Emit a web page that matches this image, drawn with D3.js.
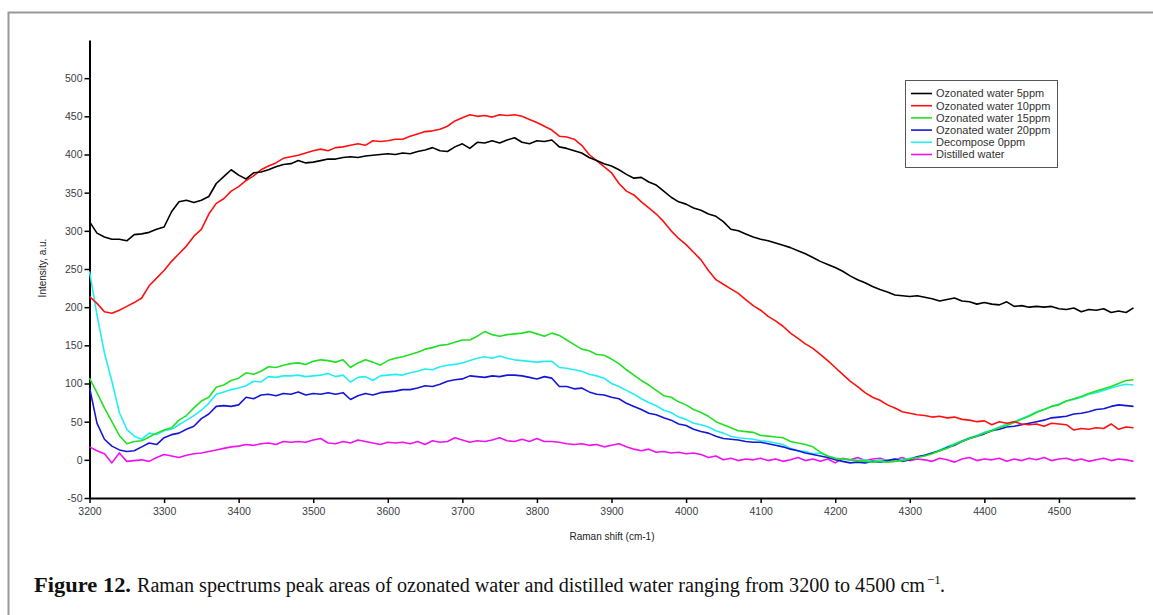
<!DOCTYPE html>
<html>
<head>
<meta charset="utf-8">
<script src="https://cdn.jsdelivr.net/npm/d3@7"></script>
<style>
  html, body { margin: 0; padding: 0; background: #fff; }
  svg { display: block; }
</style>
</head>
<body>
<script>
// Raman spectra, sampled every 10 cm-1 from 3200 to 4600
const shiftStart = 3200, shiftStep = 10;

const ozone5 = [312,297,292,289,289,287,295,296,298,302,305,325,338,340,337,340,345,362,371,380,
  373,368,376,377,380,384,387,388,392,389,390,392,394,394,396,397,396,398,399,400,
  401,400,402,401,404,406,409,405,404,410,414,408,416,415,418,415,419,422,416,414,
  418,417,419,410,408,405,402,396,392,388,385,380,374,369,370,364,360,352,344,338,
  335,330,327,322,319,312,302,300,296,292,289,287,284,281,278,274,270,265,260,256,
  252,247,241,236,232,227,223,220,216,215,214,215,213,211,208,210,212,208,207,204,
  206,204,203,207,201,202,200,201,200,201,198,197,199,194,197,196,198,193,195,193,199];

const ozone10 = [214,205,194,192,196,201,206,212,228,238,248,260,270,280,293,302,322,336,342,352,
  358,366,372,380,385,389,395,397,399,402,405,407,405,409,410,412,414,412,418,417,
  418,420,420,424,427,430,431,433,437,444,448,452,450,451,449,452,451,452,450,446,
  442,437,432,424,423,420,412,400,392,384,376,362,352,347,338,330,322,312,300,290,
  282,272,262,248,236,230,224,218,210,202,196,188,182,175,166,159,152,146,138,130,
  121,112,103,96,88,82,78,72,68,63,61,59,58,56,57,55,56,53,52,50,
  51,46,50,48,50,47,46,47,44,48,47,46,39,41,40,42,41,47,40,43,42];

const ozone15 = [107,88,68,50,32,21,24,25,30,35,39,42,52,58,68,77,82,95,98,104,
  107,114,112,116,122,121,124,126,127,125,129,131,130,128,131,121,127,131,128,124,
  130,133,135,138,141,145,147,150,151,154,157,157,162,168,164,162,164,165,166,168,
  165,162,166,163,157,151,145,143,138,137,132,126,118,111,104,98,91,84,82,76,
  72,66,62,57,50,46,42,38,37,36,32,31,30,29,24,22,20,17,10,5,
  2,1,0,-1,-2,-3,-2,-3,-2,-1,1,3,5,8,12,15,20,24,28,31,
  35,38,42,45,49,53,57,62,66,70,72,77,80,83,87,90,93,96,100,104,105];

const ozone20 = [95,48,27,18,13,11,12,17,22,20,29,33,35,40,44,54,60,70,71,70,
  72,82,80,85,86,84,87,86,89,85,87,86,88,86,88,79,84,87,85,88,
  89,90,92,92,94,97,96,99,103,105,106,110,109,108,110,109,111,111,110,108,
  106,109,107,96,96,93,94,89,86,85,82,80,74,70,66,61,59,55,52,47,
  45,40,37,35,31,28,27,26,24,23,23,21,19,17,14,12,9,7,5,3,
  0,-2,-4,-3,-4,-2,-3,-1,1,-2,0,4,6,9,12,16,19,24,28,31,
  34,38,40,43,44,46,48,50,52,55,56,57,60,61,63,66,67,70,72,71,70];

const decompose0 = [247,190,140,103,62,40,31,27,35,33,38,40,46,52,58,65,74,86,89,92,
  94,97,103,102,109,108,110,110,111,109,110,111,113,109,111,102,108,109,104,110,
  111,112,111,114,116,119,118,122,124,125,127,130,133,135,133,136,133,131,130,129,
  128,129,129,121,120,118,116,112,110,107,100,96,91,86,80,75,71,65,62,56,
  53,48,46,43,38,35,31,29,28,27,25,24,22,20,15,12,11,8,9,5,
  2,1,0,-1,0,-2,0,-1,1,0,2,4,6,9,13,17,21,25,29,32,
  36,39,43,47,50,54,58,63,66,70,73,77,79,82,86,88,91,94,97,99,98];

const distilled = [17,12,8,-4,9,-2,-1,0,-2,3,7,5,3,6,8,9,11,13,15,17,
  18,20,19,21,22,20,24,23,24,23,26,28,22,21,24,22,26,24,22,20,
  23,22,23,21,24,20,25,23,24,29,26,23,25,24,26,29,25,24,27,24,
  28,24,24,23,21,20,21,19,20,17,19,21,17,14,12,14,10,11,9,10,
  8,9,7,3,5,0,2,-1,1,0,2,-1,1,-2,0,3,-1,1,-2,1,
  -4,2,0,3,-1,1,2,-1,0,3,-1,1,0,-2,2,0,-3,1,3,-1,
  1,0,2,-2,1,-1,2,0,3,-1,1,2,-1,1,-2,0,2,-1,1,0,-2];

const seriesNames = ["Ozonated water 5ppm", "Ozonated water 10ppm", "Ozonated water 15ppm",
  "Ozonated water 20ppm", "Decompose 0ppm", "Distilled water"];
const seriesValues = [ozone5, ozone10, ozone15, ozone20, decompose0, distilled];
const seriesColors = ["#000000", "#ff1010", "#22e022", "#1616d6", "#22eef2", "#f010f0"];

const xTicks = [3200, 3300, 3400, 3500, 3600, 3700, 3800, 3900, 4000, 4100, 4200, 4300, 4400, 4500];
const yTicks = [-50, 0, 50, 100, 150, 200, 250, 300, 350, 400, 450, 500];

const W = 1153, H = 615;
const svg = d3.select("body").append("svg").attr("width", W).attr("height", H);

// outer figure frame (top and left rules)
svg.append("path")
  .attr("d", `M8.5,${H} V12.5 H${W}`)
  .attr("fill", "none").attr("stroke", "#9a9a9a").attr("stroke-width", 2);

const x = d3.scaleLinear().domain([3200, 4602]).range([89.5, 1135]);
const y = d3.scaleLinear().domain([-50, 550]).range([498, 40]);

// axes
const axisFont = "'Liberation Sans', Arial, sans-serif";
const plainNumber = d => String(d);
const xAxis = svg.append("g").attr("transform", "translate(0,498)")
  .call(d3.axisBottom(x).tickValues(xTicks).tickSize(5).tickSizeOuter(0).tickFormat(plainNumber));
const yAxis = svg.append("g").attr("transform", "translate(89.5,0)")
  .call(d3.axisLeft(y).tickValues(yTicks).tickSize(5).tickSizeOuter(0).tickFormat(plainNumber));

[xAxis, yAxis].forEach(g => {
  g.select(".domain").attr("stroke", "#000").attr("stroke-width", 2);
  g.selectAll(".tick line").attr("stroke", "#000").attr("stroke-width", 1.5);
  g.selectAll(".tick text").attr("fill", "#3c3c46").style("font-family", axisFont).style("font-size", "10.5px");
});
xAxis.selectAll(".tick text").attr("dy", "0.9em").attr("y", 8);
yAxis.selectAll(".tick text").attr("x", -7);

// axis titles
svg.append("text").attr("x", 612).attr("y", 540).attr("text-anchor", "middle")
  .style("font-family", axisFont).style("font-size", "10px").attr("fill", "#222")
  .text("Raman shift (cm-1)");
svg.append("text").attr("transform", "translate(46,268) rotate(-90)").attr("text-anchor", "middle")
  .style("font-family", axisFont).style("font-size", "10px").attr("fill", "#222")
  .text("Intensity, a.u.");

// spectra
const line = d3.line()
  .x((d, i) => x(shiftStart + i * shiftStep))
  .y(d => y(d));

const order = [5, 4, 3, 2, 1, 0];
order.forEach(k => {
  svg.append("path")
    .datum(seriesValues[k])
    .attr("fill", "none")
    .attr("stroke", seriesColors[k])
    .attr("stroke-width", 1.6)
    .attr("stroke-linejoin", "round")
    .attr("d", line);
});

// legend
const lg = svg.append("g");
lg.append("rect").attr("x", 905.5).attr("y", 80.5).attr("width", 152).attr("height", 87)
  .attr("fill", "#fff").attr("stroke", "#555").attr("stroke-width", 1);
seriesNames.forEach((name, i) => {
  const cy = 93.5 + i * 12.2;
  lg.append("line").attr("x1", 911).attr("x2", 932).attr("y1", cy).attr("y2", cy)
    .attr("stroke", seriesColors[i]).attr("stroke-width", 1.6);
  lg.append("text").attr("x", 936).attr("y", cy).attr("dy", "0.35em")
    .style("font-family", axisFont).style("font-size", "11px").attr("fill", "#333")
    .text(name);
});

// caption
const serif = "'Liberation Serif', 'Times New Roman', serif";
svg.append("text").attr("x", 34).attr("y", 592)
  .attr("textLength", 97).attr("lengthAdjust", "spacingAndGlyphs")
  .style("font-family", serif).style("font-size", "20px").style("font-weight", "bold").attr("fill", "#111")
  .text("Figure 12.");
svg.append("text").attr("x", 137).attr("y", 592)
  .attr("textLength", 788).attr("lengthAdjust", "spacingAndGlyphs")
  .style("font-family", serif).style("font-size", "20px").attr("fill", "#111")
  .text("Raman spectrums peak areas of ozonated water and distilled water ranging from 3200 to 4500 cm");
svg.append("text").attr("x", 927).attr("y", 584)
  .style("font-family", serif).style("font-size", "13px").attr("fill", "#111")
  .text("\u22121");
svg.append("text").attr("x", 940).attr("y", 592)
  .style("font-family", serif).style("font-size", "20px").attr("fill", "#111")
  .text(".");
</script>
</body>
</html>
